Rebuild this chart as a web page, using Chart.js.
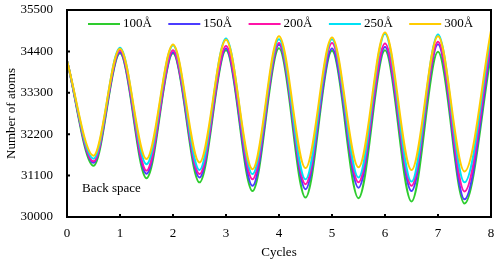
<!DOCTYPE html>
<html>
<head>
<meta charset="utf-8">
<script src="https://cdn.jsdelivr.net/npm/chart.js@4.4.1/dist/chart.umd.min.js"></script>
<style>
  html, body { margin: 0; padding: 0; background: #fff; }
  #wrap { width: 496px; height: 262px; }
</style>
</head>
<body>
<div id="wrap"><canvas id="chart"></canvas></div>
<script>
var cycles = [0, 0.5, 1, 1.5, 2, 2.5, 3, 3.5, 4, 4.5, 5, 5.5, 6, 6.5, 7, 7.5, 8]
var labels = ['100Å', '150Å', '200Å', '250Å', '300Å']
var atoms100 = [34150, 31360, 34350, 31030, 34350, 30920, 34430, 30690, 34485, 30515, 34415, 30500, 34430, 30410, 34390, 30360, 34300]
var atoms150 = [34150, 31440, 34380, 31150, 34380, 31050, 34480, 30830, 34575, 30740, 34480, 30780, 34520, 30690, 34590, 30470, 34500]
var atoms200 = [34150, 31480, 34430, 31230, 34430, 31140, 34545, 31000, 34625, 30870, 34625, 30920, 34610, 30830, 34655, 30680, 34650]
var atoms250 = [34150, 31550, 34495, 31400, 34565, 31250, 34745, 31140, 34720, 31000, 34725, 31050, 34870, 30940, 34850, 30920, 34850]
var atoms300 = [34150, 31630, 34470, 31540, 34585, 31450, 34710, 31270, 34805, 31300, 34770, 31320, 34905, 31250, 34805, 31210, 34950]
var yTicks = [30000, 31100, 32200, 33300, 34400, 35500]
var colors = ['#2ecc2e', '#4b3cff', '#ff14a8', '#00e1f5', '#ffcc00']

var serif = '"Liberation Serif", "Times New Roman", serif'

function pts(arr) {
    return arr.map(function (v, i) { return { x: cycles[i], y: v } })
}

var allSeries = [atoms100, atoms150, atoms200, atoms250, atoms300]
var datasets = allSeries.map(function (s, i) {
    return {
        label: labels[i],
        data: pts(s),
        borderColor: colors[i],
        backgroundColor: colors[i],
        borderWidth: 2,
        pointRadius: 0,
        fill: false,
        cubicInterpolationMode: 'monotone',
        order: 4 - i
    }
})

// box, inward ticks, legend and note drawn on top
var extras = {
    id: 'extras',
    afterDraw: function (chart) {
        var ctx = chart.ctx
        var a = chart.chartArea
        var xs = chart.scales.x, ys = chart.scales.y
        ctx.save()
        ctx.strokeStyle = '#000'
        ctx.lineWidth = 2
        ctx.strokeRect(a.left, a.top, a.right - a.left, a.bottom - a.top)
        ctx.beginPath()
        for (var i = 1; i < 8; i++) {
            var px = xs.getPixelForValue(i)
            ctx.moveTo(px, a.bottom)
            ctx.lineTo(px, a.bottom - 3)
        }
        for (var j = 1; j < yTicks.length - 1; j++) {
            var py = ys.getPixelForValue(yTicks[j])
            ctx.moveTo(a.left, py)
            ctx.lineTo(a.left + 3, py)
        }
        ctx.stroke()

        // legend
        ctx.font = '13px ' + serif
        ctx.fillStyle = '#000'
        ctx.textBaseline = 'middle'
        var ly = a.top + 14
        for (var k = 0; k < labels.length; k++) {
            var lx = a.left + 21 + k * 80.3
            ctx.strokeStyle = colors[k]
            ctx.lineWidth = 2
            ctx.beginPath()
            ctx.moveTo(lx, ly)
            ctx.lineTo(lx + 32, ly)
            ctx.stroke()
            ctx.fillText(labels[k], lx + 35, ly)
        }
        ctx.fillText('Back space', a.left + 15, ys.getPixelForValue(30750))
        ctx.restore()
    }
}

var ctx = document.getElementById('chart').getContext('2d')
var chart = new Chart(ctx, {
    type: 'line',
    data: { datasets: datasets },
    options: {
        responsive: true,
        maintainAspectRatio: false,
        animation: false,
        layout: { padding: 0 },
        plugins: { legend: { display: false }, tooltip: { enabled: false } },
        scales: {
            x: {
                type: 'linear',
                min: 0,
                max: 8,
                grid: { display: false, drawTicks: false },
                border: { display: false },
                ticks: { stepSize: 1, padding: 9, color: '#000', font: { family: serif, size: 13 } },
                title: { display: true, text: 'Cycles', color: '#000', padding: { top: 2, bottom: 2 }, font: { family: serif, size: 13 } },
                afterFit: function (axis) {
                    axis.height = 45
                    axis.paddingLeft = 0
                    axis.paddingRight = 5
                }
            },
            y: {
                min: 30000,
                max: 35500,
                grid: { display: false, drawTicks: false },
                border: { display: false },
                afterBuildTicks: function (axis) {
                    axis.ticks = yTicks.map(function (v) { return { value: v } })
                },
                ticks: {
                    padding: 14, color: '#000', font: { family: serif, size: 13 },
                    callback: function (v) { return String(v) }
                },
                title: { display: true, text: 'Number of atoms', color: '#000', padding: { top: 4, bottom: 4 }, font: { family: serif, size: 13 } },
                afterFit: function (axis) {
                    axis.width = 67
                    axis.paddingTop = 10
                    axis.paddingBottom = 0
                }
            }
        }
    },
    plugins: [extras]
})
</script>
</body>
</html>
